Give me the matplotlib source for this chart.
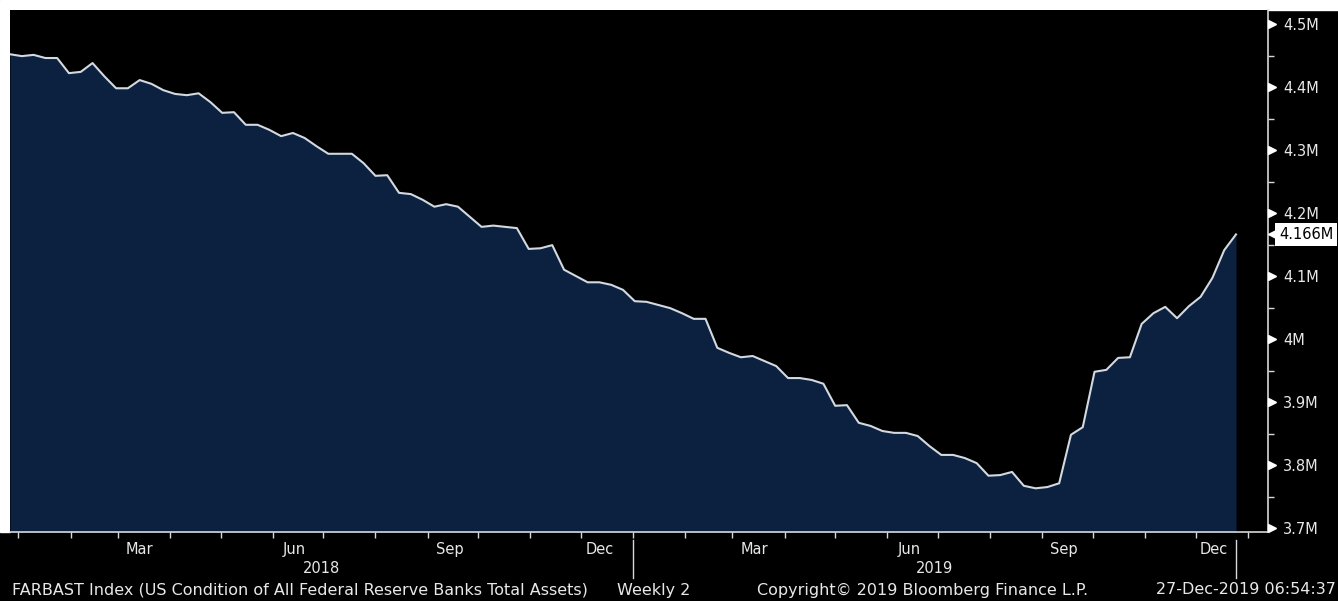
import matplotlib
matplotlib.use("Agg")
import matplotlib.pyplot as plt
import matplotlib.dates as mdates
from matplotlib.patches import Rectangle
import numpy as np
import pandas as pd

# FARBAST weekly total assets (axis shows them as "M")
dates = pd.date_range("2017-12-27", periods=105, freq="7D")
assets = [
    4.452, 4.449, 4.451, 4.446, 4.446, 4.422, 4.424, 4.438, 4.417, 4.398,
    4.398, 4.411, 4.405, 4.395, 4.389, 4.387, 4.390, 4.376, 4.359, 4.360,
    4.340, 4.340, 4.332, 4.322, 4.327, 4.319, 4.306, 4.294, 4.294, 4.294,
    4.279, 4.259, 4.260, 4.232, 4.230, 4.221, 4.210, 4.214, 4.210, 4.194,
    4.178, 4.180, 4.178, 4.176, 4.143, 4.144, 4.149, 4.110, 4.100, 4.090,
    4.090, 4.086, 4.078, 4.060, 4.059, 4.054, 4.049, 4.041, 4.032, 4.032,
    3.986, 3.978, 3.971, 3.973, 3.965, 3.957, 3.938, 3.938, 3.935, 3.929,
    3.894, 3.895, 3.867, 3.862, 3.854, 3.851, 3.851, 3.846, 3.830, 3.816,
    3.816, 3.811, 3.803, 3.783, 3.784, 3.789, 3.767, 3.763, 3.765, 3.771,
    3.848, 3.860, 3.948, 3.951, 3.970, 3.971, 4.024, 4.041, 4.051, 4.033,
    4.052, 4.067, 4.097, 4.141, 4.166,
]
y_ticks = [3.7, 3.8, 3.9, 4.0, 4.1, 4.2, 4.3, 4.4, 4.5]
month_labels = [("2018-03-14", "Mar"), ("2018-06-14", "Jun"), ("2018-09-14", "Sep"),
                ("2018-12-12", "Dec"), ("2019-03-14", "Mar"), ("2019-06-14", "Jun"),
                ("2019-09-14", "Sep"), ("2019-12-12", "Dec")]
footer_left = "FARBAST Index (US Condition of All Federal Reserve Banks Total Assets)"
footer_freq = "Weekly 2"
footer_copy = "Copyright\u00a9 2019 Bloomberg Finance L.P."
footer_time = "27-Dec-2019 06:54:37"

W, H = 1338, 601
fig = plt.figure(figsize=(W / 100, H / 100), dpi=100, facecolor="black")
# white margins of the screenshot
fig.patches.append(Rectangle((0, (H - 10) / H), 1, 10 / H, transform=fig.transFigure,
                             color="white", zorder=-5))
fig.patches.append(Rectangle((0, (H - 532) / H), 10 / W, 522 / H, transform=fig.transFigure,
                             color="white", zorder=-5))

ax = fig.add_axes([10 / W, (H - 532) / H, (1268 - 10) / W, (532 - 10) / H])
ax.set_facecolor("black")

x0 = mdates.date2num(dates[0])
x1 = mdates.date2num(dates[-1])
ax.set_xlim(x0, x1 + (x1 - x0) * 32 / 1226)
ax.set_ylim(3.7 - 4 / 630, 3.7 + 518 / 630)

ax.fill_between(dates, assets, 3.5, color="#0c2140", lw=0, zorder=1)
ax.plot(dates, assets, color="#d3d9e0", lw=1.5, zorder=2)

for s in ["top", "left"]:
    ax.spines[s].set_visible(False)
for s in ["right", "bottom"]:
    ax.spines[s].set_color("#d8d8d8")
    ax.spines[s].set_linewidth(1.2)

# right axis
ax.yaxis.tick_right()
ax.set_yticks(y_ticks, [f"{round(v, 1):g}M" for v in y_ticks])
ax.set_yticks(np.array(y_ticks[:-1]) + 0.05, minor=True)
ax.tick_params(axis="y", which="major", length=0, pad=11, labelcolor="#e8e8e8", labelsize=10.5)
ax.tick_params(axis="y", which="minor", length=4, width=1, color="#d8d8d8", direction="out")
ytr = ax.get_yaxis_transform()
ax.plot(np.full(len(y_ticks), 1 + 4 / 1258), y_ticks, ls="none", marker=">",
        markersize=6, color="white", transform=ytr, clip_on=False, zorder=5)

# last value callout
last = assets[-1]
ax.plot([1 + 7 / 1258], [last], marker="<", markersize=10, color="white",
        transform=ytr, clip_on=False, zorder=6)
ax.text(1 + 11 / 1258, last, f"{last:.3f}M", transform=ytr, ha="left", va="center",
        color="black", fontsize=10.5, clip_on=False, zorder=7,
        bbox=dict(boxstyle="square,pad=0.25", fc="white", ec="none"))

# bottom axis
ax.xaxis.set_minor_locator(mdates.MonthLocator())
ax.set_xticks([mdates.datestr2num(d) for d, _ in month_labels], [m for _, m in month_labels])
ax.tick_params(axis="x", which="major", length=0, pad=7, labelcolor="#e8e8e8", labelsize=10.5)
ax.tick_params(axis="x", which="minor", length=4, width=1, color="#d8d8d8", direction="out")

xtr = ax.get_xaxis_transform()
jan19 = mdates.datestr2num("2019-01-01")
for xs in [jan19, x1]:
    ax.plot([xs, xs], [-0.016, -0.088], color="#d8d8d8", lw=1, transform=xtr, clip_on=False)
ax.text((x0 + jan19) / 2, -0.069, "2018", transform=xtr, ha="center", va="center",
        color="#e8e8e8", fontsize=10.5)
ax.text((jan19 + x1) / 2, -0.069, "2019", transform=xtr, ha="center", va="center",
        color="#e8e8e8", fontsize=10.5)

# footer
fy = (H - 590) / H
fig.text(12 / W, fy, footer_left, color="#e8e8e8", fontsize=11.5, va="center", ha="left")
fig.text(617 / W, fy, footer_freq, color="#e8e8e8", fontsize=11.5, va="center", ha="left")
fig.text(757 / W, fy, footer_copy, color="#e8e8e8", fontsize=11.5, va="center", ha="left")
fig.text(1336 / W, fy, footer_time, color="#e8e8e8", fontsize=11.5, va="center", ha="right")

fig.savefig("out.png", dpi=100, facecolor=fig.get_facecolor())
